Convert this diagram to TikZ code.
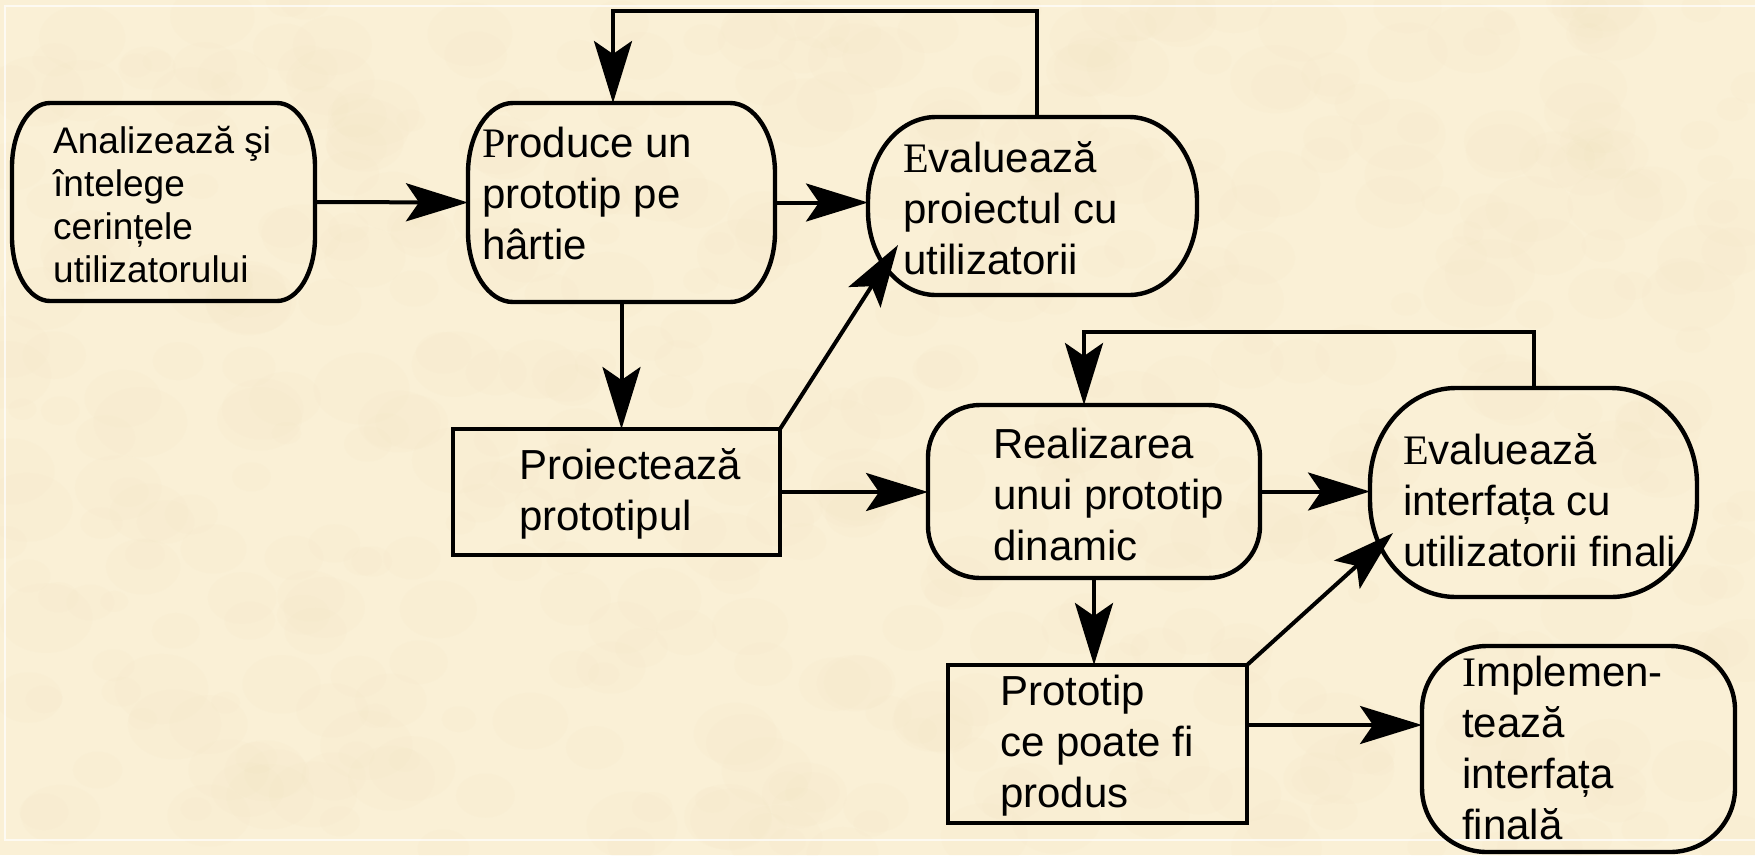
\documentclass[tikz,border=0pt]{standalone}
\usepackage{fontspec}
\setmainfont{Liberation Sans}
\newfontfamily\tnr{Liberation Serif}
\usetikzlibrary{arrows.meta}
\definecolor{parchment}{RGB}{250,240,214}
\definecolor{mottle}{RGB}{236,220,178}
\tikzset{
  x=1pt, y=1pt,
  slot/.style={inner sep=0pt, outer sep=0pt, draw=none},
  rectbox/.style={slot, draw=black, line width=4.6pt},
  frameline/.style={draw=black, line width=4.4pt, line join=round},
  arr/.style={line width=4pt, line join=miter,
    -{Stealth[length=62pt,width=38pt,inset=13pt]}},
  txt/.style={inner sep=0pt, anchor=base west, font=\fontsize{42}{51}\selectfont},
}
% left-aligned block of lines whose baseline is the first line
\newcommand\txtlines[1]{\begin{tabular}[t]{@{}l@{}}#1\end{tabular}}
% outline with elliptical corners around a node: name, x radius, y radius
\newcommand\ovalframe[3]{%
  \draw[frameline] ([xshift=#2]#1.north west) -- ([xshift=-#2]#1.north east)
    arc[start angle=90,end angle=0,x radius=#2,y radius=#3]
    -- ([yshift=#3]#1.south east)
    arc[start angle=0,end angle=-90,x radius=#2,y radius=#3]
    -- ([xshift=#2]#1.south west)
    arc[start angle=270,end angle=180,x radius=#2,y radius=#3]
    -- ([yshift=-#3]#1.north west)
    arc[start angle=180,end angle=90,x radius=#2,y radius=#3]
    -- cycle;}

\begin{document}
\begin{tikzpicture}
\useasboundingbox (0,0) rectangle (1755,-855);
\fill[parchment] (0,0) rectangle (1755,-855);
% very faint mottled paper grain
\pgfmathsetseed{4242}
\begin{scope}
\clip (0,0) rectangle (1755,-855);
\foreach \k in {1,...,500}{
  \pgfmathsetmacro\px{rnd*1755}
  \pgfmathsetmacro\py{-rnd*855}
  \pgfmathsetmacro\pr{14+rnd*34}
  \fill[mottle, opacity=0.06] (\px,\py) ellipse[x radius=\pr, y radius=0.75*\pr];
}
\end{scope}
\draw[white, opacity=0.7, line width=1.5pt] (1755,-6) -- (5,-6) -- (5,-840) -- (1755,-840);

% boxes
\node[slot, minimum width=303pt, minimum height=198pt] (A) at (163.5,-202) {};
\node[slot, minimum width=307pt, minimum height=199pt] (B) at (621.5,-202.5) {};
\node[slot, minimum width=329pt, minimum height=178pt] (C) at (1032.5,-206) {};
\node[rectbox, minimum width=327pt, minimum height=126pt] (D) at (616.5,-492) {};
\node[slot, minimum width=332pt, minimum height=173pt] (E) at (1094,-491.5) {};
\node[slot, minimum width=327pt, minimum height=209pt] (F) at (1533.5,-492.5) {};
\node[rectbox, minimum width=299pt, minimum height=158pt] (G) at (1097.5,-744) {};
\node[slot, minimum width=313pt, minimum height=206pt] (H) at (1578.5,-749) {};

\ovalframe{A}{38pt}{64pt}
\ovalframe{B}{45pt}{70pt}
\ovalframe{C}{68pt}{84pt}
\ovalframe{E}{52pt}{52pt}
\ovalframe{F}{86pt}{96pt}
\ovalframe{H}{65pt}{64pt}

% texts
\node[txt, font=\fontsize{37}{43.3}\selectfont] (At) at (53,-153)
  {\txtlines{Analizează şi\\întelege\\cerințele\\utilizatorului}};
\node[txt] (Bt) at (482,-157) {\txtlines{{\tnr P}roduce un\\prototip pe\\hârtie}};
\node[txt] (Ct) at (903,-172) {\txtlines{{\tnr E}valuează\\proiectul cu\\utilizatorii}};
\node[txt] (Dt) at (519,-479) {\txtlines{Proiectează\\prototipul}};
\node[txt] (Et) at (993,-458) {\txtlines{Realizarea\\unui prototip\\dinamic}};
\node[txt] (Ft) at (1403,-464) {\txtlines{{\tnr E}valuează\\interfața cu\\utilizatorii finali}};
\node[txt] (Gt) at (1000,-705) {\txtlines{Prototip\\ce poate fi\\produs}};
\node[txt] (Ht) at (1462,-686) {\txtlines{{\tnr I}mplemen-\\tează\\interfața\\finală}};

% connectors
\coordinate (loopB) at (613,-11);
\coordinate (loopE) at (1084,-332);
\coordinate (hitC) at (898,-245);
\coordinate (hitF) at (1393,-533);

\draw[arr] (A.east) -- (B.west);
\draw[arr] (B.east) -- (B.east -| C.west);
\draw[arr] ([xshift=4.5pt]C.north) |- (loopB) -- (loopB |- B.north);
\draw[arr] (B.south) -- (B.south |- D.north);
\draw[arr] (D.north east) -- (hitC);
\draw[arr] (D.east) -- (D.east -| E.west);
\draw[arr] (E.east) -- (E.east -| F.west);
\draw[arr] (F.north) |- (loopE) -- (loopE |- E.north);
\draw[arr] (E.south) -- (E.south |- G.north);
\draw[arr] (G.north east) -- (hitF);
\draw[arr] ([yshift=19pt]G.east) -- ([yshift=19pt]G.east -| H.west);
\end{tikzpicture}
\end{document}
